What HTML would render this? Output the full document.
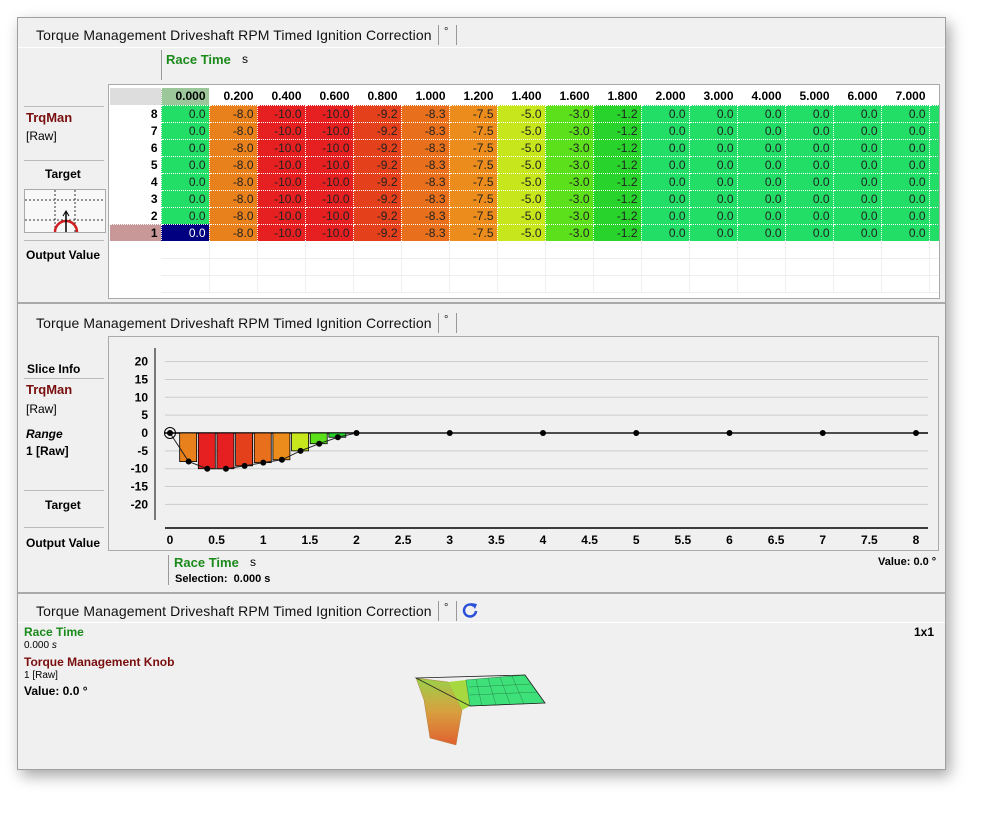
<!DOCTYPE html>
<html><head><meta charset="utf-8">
<style>
body{margin:0;width:995px;height:819px;background:#fff;font-family:"Liberation Sans",Arial,sans-serif;position:relative;overflow:hidden}
.abs{position:absolute}
#win{left:17px;top:17px;width:927px;height:751px;background:#f0f0f0;border:1px solid #a0a0a0;box-shadow:4px 6px 14px rgba(0,0,0,.35)}
.title{font-size:14px;color:#111;white-space:nowrap;letter-spacing:0.1px}
.sep{width:1px;background:#999}
.hline{height:1px;background:#bbb}
.b{font-weight:bold;font-size:12px}
.green{color:#1a8a1a}
.maroon{color:#7a0e0e}
table{border-collapse:collapse;font-size:12px}
td{padding:0 3px;height:17px;border-right:1px dotted #fff;border-bottom:1px dotted #fff;text-align:right;box-sizing:border-box}
</style></head><body>
<div id="win" class="abs"></div>

<!-- Panel 1 -->
<div class="abs title" style="left:36px;top:27px">Torque Management Driveshaft RPM Timed Ignition Correction</div>
<div class="abs sep" style="left:438px;top:25px;height:20px"></div>
<div class="abs title" style="left:444px;top:26px;font-size:11px">°</div>
<div class="abs sep" style="left:456px;top:25px;height:20px"></div>
<div class="abs" style="left:18px;top:47px;width:927px;height:1px;background:#fff"></div>
<div class="abs sep" style="left:161px;top:50px;height:30px"></div>
<div class="abs b green" style="left:166px;top:52px;font-size:13px">Race Time</div>
<div class="abs" style="left:242px;top:52px;font-size:12px">s</div>
<div class="abs hline" style="left:24px;top:106px;width:80px"></div>
<div class="abs b maroon" style="left:26px;top:110px;font-size:13px">TrqMan</div>
<div class="abs" style="left:26px;top:129px;font-size:12px">[Raw]</div>
<div class="abs hline" style="left:24px;top:160px;width:80px"></div>
<div class="abs b" style="left:45px;top:167px">Target</div>
<div class="abs" style="left:24px;top:189px;width:80px;height:42px;background:#f8f8f8;border:1px solid #aaa">
<svg width="80" height="42"><line x1="0" y1="10" x2="80" y2="10" stroke="#333" stroke-dasharray="2,2"/><line x1="0" y1="30" x2="80" y2="30" stroke="#333" stroke-dasharray="2,2"/><line x1="30" y1="0" x2="30" y2="42" stroke="#333" stroke-dasharray="2,2"/><line x1="50" y1="0" x2="50" y2="42" stroke="#333" stroke-dasharray="2,2"/><path d="M30 42 A11 11 0 0 1 52 42" fill="none" stroke="#d02020" stroke-width="2.5"/><line x1="41" y1="42" x2="41" y2="22" stroke="#000" stroke-width="1.5"/><path d="M38 26 L41 21 L44 26" fill="none" stroke="#000"/></svg></div>
<div class="abs hline" style="left:24px;top:240px;width:80px"></div>
<div class="abs b" style="left:26px;top:248px">Output Value</div>
<div class="abs" style="left:108px;top:84px;width:830px;height:213px;background:#fff;border:1px solid #aaa;overflow:hidden">
<div id="tbl"></div></div>
<div class="abs" style="left:18px;top:302px;width:927px;height:2px;background:#aaa"></div>

<!-- Panel 2 -->
<div class="abs title" style="left:36px;top:315px">Torque Management Driveshaft RPM Timed Ignition Correction</div>
<div class="abs sep" style="left:438px;top:313px;height:20px"></div>
<div class="abs title" style="left:444px;top:314px;font-size:11px">°</div>
<div class="abs sep" style="left:456px;top:313px;height:20px"></div>
<div class="abs b" style="left:27px;top:362px">Slice Info</div>
<div class="abs hline" style="left:24px;top:378px;width:80px"></div>
<div class="abs b maroon" style="left:26px;top:382px;font-size:13px">TrqMan</div>
<div class="abs" style="left:26px;top:402px;font-size:12px">[Raw]</div>
<div class="abs b" style="left:26px;top:427px;font-style:italic">Range</div>
<div class="abs b" style="left:26px;top:444px">1 [Raw]</div>
<div class="abs hline" style="left:24px;top:490px;width:80px"></div>
<div class="abs b" style="left:45px;top:498px">Target</div>
<div class="abs hline" style="left:24px;top:527px;width:80px"></div>
<div class="abs b" style="left:26px;top:536px">Output Value</div>
<div class="abs" style="left:108px;top:336px;width:829px;height:213px;border:1px solid #aaa">
<svg id="chart" width="829" height="213" style="position:absolute;left:-1px;top:-1px"></svg></div>
<div class="abs sep" style="left:168px;top:555px;height:30px"></div>
<div class="abs b green" style="left:174px;top:555px;font-size:13px">Race Time</div>
<div class="abs" style="left:250px;top:555px;font-size:12px">s</div>
<div class="abs b" style="left:175px;top:573px;font-size:11px">Selection:&nbsp; 0.000 s</div>
<div class="abs b" style="left:878px;top:556px;font-size:11px">Value: 0.0 °</div>
<div class="abs" style="left:18px;top:592px;width:927px;height:2px;background:#aaa"></div>

<!-- Panel 3 -->
<div class="abs title" style="left:36px;top:603px">Torque Management Driveshaft RPM Timed Ignition Correction</div>
<div class="abs sep" style="left:438px;top:601px;height:20px"></div>
<div class="abs title" style="left:444px;top:602px;font-size:11px">°</div>
<div class="abs sep" style="left:456px;top:601px;height:20px"></div>
<svg class="abs" style="left:461px;top:601px" width="18" height="18"><path d="M13 5 A6 6 0 1 0 15 10" fill="none" stroke="#2a4fd8" stroke-width="2.5"/><path d="M10 2 L16 3 L14 8 Z" fill="#2a4fd8"/></svg>
<div class="abs" style="left:18px;top:622px;width:927px;height:1px;background:#fff"></div>
<div class="abs b green" style="left:24px;top:625px">Race Time</div>
<div class="abs" style="left:24px;top:640px;font-size:10px">0.000 <i>s</i></div>
<div class="abs b maroon" style="left:24px;top:655px">Torque Management Knob</div>
<div class="abs" style="left:24px;top:670px;font-size:10px">1 [Raw]</div>
<div class="abs b" style="left:24px;top:684px">Value: 0.0 °</div>
<div class="abs b" style="left:914px;top:625px">1x1</div>
<svg class="abs" style="left:410px;top:660px" width="140" height="90">
<defs><linearGradient id="wall" x1="0" y1="0" x2="0" y2="1"><stop offset="0" stop-color="#9ad04a"/><stop offset=".5" stop-color="#d8a040"/><stop offset="1" stop-color="#e06030"/></linearGradient></defs>
<path d="M6 18 L14 40 L20 78 L46 85 L52 50 L38 22 Z" fill="url(#wall)" stroke="#b08040" stroke-width=".5"/>
<path d="M38 22 L52 50 L60 46 L56 20 Z" fill="#a8d840"/>
<path d="M56 20 L115 15 L135 43 L60 46 Z" fill="#3ee07a" stroke="#2a8a4a" stroke-width=".6"/>
<g stroke="#2a8a4a" stroke-width=".5"><line x1="66" y1="19" x2="72" y2="46"/><line x1="78" y1="18" x2="86" y2="45"/><line x1="90" y1="17" x2="100" y2="44"/><line x1="102" y1="16" x2="114" y2="44"/><line x1="59" y1="27" x2="121" y2="24"/><line x1="60" y1="35" x2="127" y2="32"/></g>
<path d="M6 18 L115 15 L135 43 L60 46 Z" fill="none" stroke="#222" stroke-width=".8"/>
</svg>

<script>
const xVals=[0,0.2,0.4,0.6,0.8,1.0,1.2,1.4,1.6,1.8,2.0,3.0,4.0,5.0,6.0,7.0,8.0];
const colHeaders=["0.000","0.200","0.400","0.600","0.800","1.000","1.200","1.400","1.600","1.800","2.000","3.000","4.000","5.000","6.000","7.000","8.000"];
const rowLabels=[8,7,6,5,4,3,2,1];
const values=[0.0,-8.0,-10.0,-10.0,-9.2,-8.3,-7.5,-5.0,-3.0,-1.2,0.0,0.0,0.0,0.0,0.0,0.0,0.0];
const yTicks=[20,15,10,5,0,-5,-10,-15,-20];
const xTicks=[0,0.5,1,1.5,2,2.5,3,3.5,4,4.5,5,5.5,6,6.5,7,7.5,8];

function colorFor(v){
  const stops=[[0,[34,221,102]],[-1.2,[40,212,44]],[-3,[92,224,28]],[-5,[200,230,28]],[-7.5,[235,140,28]],[-8,[232,128,28]],[-8.3,[232,112,28]],[-9.2,[228,64,28]],[-10,[230,32,32]]];
  for(let i=0;i<stops.length-1;i++){const a=stops[i],b=stops[i+1];
    if(v<=a[0]&&v>=b[0]){const t=(a[0]-v)/(a[0]-b[0]||1);const c=a[1].map((x,k)=>Math.round(x+(b[1][k]-x)*t));return `rgb(${c})`;}}
  return v>0?'rgb(34,221,102)':'rgb(230,32,32)';
}
// table
let h='<table style="position:absolute;left:1px;top:3px;table-layout:fixed;width:'+(51+48*xVals.length)+'px"><tr><td style="width:51px;background:#ddd"></td>';
colHeaders.forEach((c,i)=>{h+=`<td style="width:48px;font-weight:bold;${i==0?'background:#9bc79b':''}">${c}</td>`;});
h+='</tr>';
rowLabels.forEach(r=>{
  h+=`<tr><td style="font-weight:bold;${r==1?'background:#c89898':''}">${r}</td>`;
  values.forEach((v,i)=>{
    const sel=(r==1&&i==0);
    h+=`<td style="background:${sel?'#000080':colorFor(v)};color:${sel?'#fff':'#222'}">${v.toFixed(1)}</td>`;
  });h+='</tr>';
});
for(let k=0;k<3;k++){h+='<tr><td style="border:none"></td>';values.forEach(()=>h+='<td style="border-right:1px solid #f0f0f0;border-bottom:1px solid #eee"></td>');h+='</tr>';}
h+='</table>';
document.getElementById('tbl').innerHTML=h;

// chart
const svg=document.getElementById('chart');const NS='http://www.w3.org/2000/svg';
const X=v=>62+v*93.25;
const Y=v=>97-v*3.57;
function el(t,a,name,inter){const e=document.createElementNS(NS,t);for(const k in a)e.setAttribute(k,a[k]);
  if(name){}svg.appendChild(e);return e;}
yTicks.forEach(t=>{
  if(t!==0){const g=el('line',{x1:X(0)-5,x2:820,y1:Y(t),y2:Y(t),stroke:'#ccc'});}
  const tx=el('text',{x:40,y:Y(t)+4,'text-anchor':'end','font-size':12,'font-weight':'bold','font-family':'Liberation Sans'});
  tx.textContent=t;
});
el('line',{x1:47,x2:47,y1:12,y2:184,stroke:'#000'},'y-axis','false');
el('line',{x1:57,x2:820,y1:192,y2:192,stroke:'#000','stroke-width':1.5},'x-axis','false');
xTicks.forEach(t=>{const tx=el('text',{x:X(t),y:208,'text-anchor':'middle','font-size':12,'font-weight':'bold','font-family':'Liberation Sans'});
  tx.textContent=t;});
el('line',{x1:57,x2:820,y1:Y(0),y2:Y(0),stroke:'#000','stroke-width':1.5},'zero-line','false');
xVals.forEach((x,i)=>{const v=values[i];if(v<0){const r=el('rect',{x:X(x)-9,y:Y(0),width:17,height:Y(v)-Y(0),fill:colorFor(v),stroke:'#000','stroke-width':.8});
  }});
el('polyline',{points:xVals.map((x,i)=>X(x)+','+Y(values[i])).join(' '),fill:'none',stroke:'#222','stroke-width':1},'series-line','false');
xVals.forEach((x,i)=>{const c=el('circle',{cx:X(x),cy:Y(values[i]),r:3,fill:'#000'});});
el('circle',{cx:X(0),cy:Y(0),r:5.5,fill:'none',stroke:'#000'},'selected-point','true');
</script>
</body></html>
